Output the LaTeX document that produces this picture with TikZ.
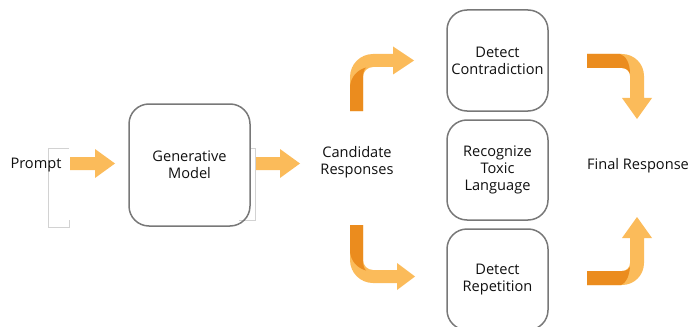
\documentclass[tikz,border=0pt]{standalone}
\usepackage{fontspec}
\setmainfont{Open Sans}
\definecolor{lightor}{RGB}{251,187,90}
\definecolor{darkor}{RGB}{235,140,30}
\definecolor{boxgray}{RGB}{120,120,120}
\definecolor{ghost}{RGB}{210,210,210}
\definecolor{txt}{RGB}{15,15,15}
\begin{document}
\begin{tikzpicture}[x=1pt,y=-1pt,
  lbl/.style={font=\fontsize{14.6}{17}\selectfont, text=txt, align=center, inner sep=0pt},
  stagebox/.style={lbl, draw=boxgray, line width=1.5pt, rounded corners=20pt},
  ghostline/.style={draw=ghost, line width=0.8pt},
  lightfill/.style={fill=lightor, draw=none},
  darkfill/.style={fill=darkor, draw=none}]
\useasboundingbox (0,0) rectangle (692,326);
\clip (0,0) rectangle (692,326);

% faint frame remnants
\draw[ghostline] (69,148) -- (48,148) -- (48,227) -- (69,227) -- (69,220);
\draw[ghostline] (250,148) -- (255,148) -- (255,220) -- (239,220);

% nodes
\node[lbl] (prompt) at (36,165) {Prompt};
\node[stagebox, minimum width=121pt, minimum height=122pt] (gen) at (189.5,165) {Generative\\Model};
\node[lbl] (cand) at (357,162) {Candidate\\Responses};
\node[stagebox, minimum width=101pt, minimum height=101pt] (contra) at (497.5,60.5) {Detect\\Contradiction};
\node[stagebox, minimum width=101pt, minimum height=100pt] (toxic) at (497.5,170) {Recognize\\Toxic\\Language};
\node[stagebox, minimum width=101pt, minimum height=101pt] (rep) at (497.5,279.5) {Detect\\Repetition};
\node[lbl] (final) at (638,166) {Final Response};

% straight block arrows
\fill[lightfill] (70,157) -- (95,157) -- (95,149) -- (115,163.5) -- (95,178) -- (95,170) -- (70,170) -- cycle;
\fill[lightfill] (256,157) -- (280,157) -- (280,149) -- (300,163.5) -- (280,178) -- (280,170) -- (256,170) -- cycle;

% bent arrow: up then right (to Detect Contradiction)
\fill[lightfill] (350,111) -- (350,77) .. controls (350,64.3) and (360.3,54) .. (373,54) -- (393,54) -- (393,46.5) -- (414,60.5) -- (393,74.5) -- (393,67) -- (373,67) .. controls (367.5,67) and (363,71.5) .. (363,77) -- (363,111) -- cycle;
\fill[darkfill] (350,111) -- (350,86) .. controls (351,77) and (357,70) .. (366,67.5) .. controls (364,69.5) and (363,73) .. (363,77) -- (363,111) -- cycle;

% bent arrow: right then down (to Final Response)
\fill[lightfill] (587,54) -- (622,54) .. controls (634.2,54) and (644,63.8) .. (644,76) -- (644,98) -- (652,98) -- (637,119) -- (622,98) -- (630,98) -- (630,76) .. controls (630,71.6) and (626.4,68) .. (622,68) -- (587,68) -- cycle;
\fill[darkfill] (587,54) -- (620,54) .. controls (626,56) and (630,63) .. (630,74) .. controls (629,70.5) and (626,68) .. (622,68) -- (587,68) -- cycle;

% bent arrow: down then right (to Detect Repetition)
\fill[lightfill] (350,225) -- (350,260) .. controls (350,272.7) and (360.3,283) .. (373,283) -- (397,283) -- (397,290) -- (415,276.5) -- (397,263) -- (397,270) -- (373,270) .. controls (367.5,270) and (363,265.5) .. (363,260) -- (363,225) -- cycle;
\fill[darkfill] (350,225) -- (350,252) .. controls (351,261) and (357,268) .. (366,270.5) .. controls (364,268.5) and (363,265) .. (363,260) -- (363,225) -- cycle;

% bent arrow: right then up (to Final Response)
\fill[lightfill] (587,285) -- (622,285) .. controls (634.2,285) and (644,275.2) .. (644,263) -- (644,238) -- (652,238) -- (637,217) -- (622,238) -- (630,238) -- (630,263) .. controls (630,267.4) and (626.4,271) .. (622,271) -- (587,271) -- cycle;
\fill[darkfill] (587,285) -- (621,285) .. controls (626,283) and (629,277) .. (630,267) .. controls (629,269.5) and (626,271) .. (622,271) -- (587,271) -- cycle;
\end{tikzpicture}
\end{document}
